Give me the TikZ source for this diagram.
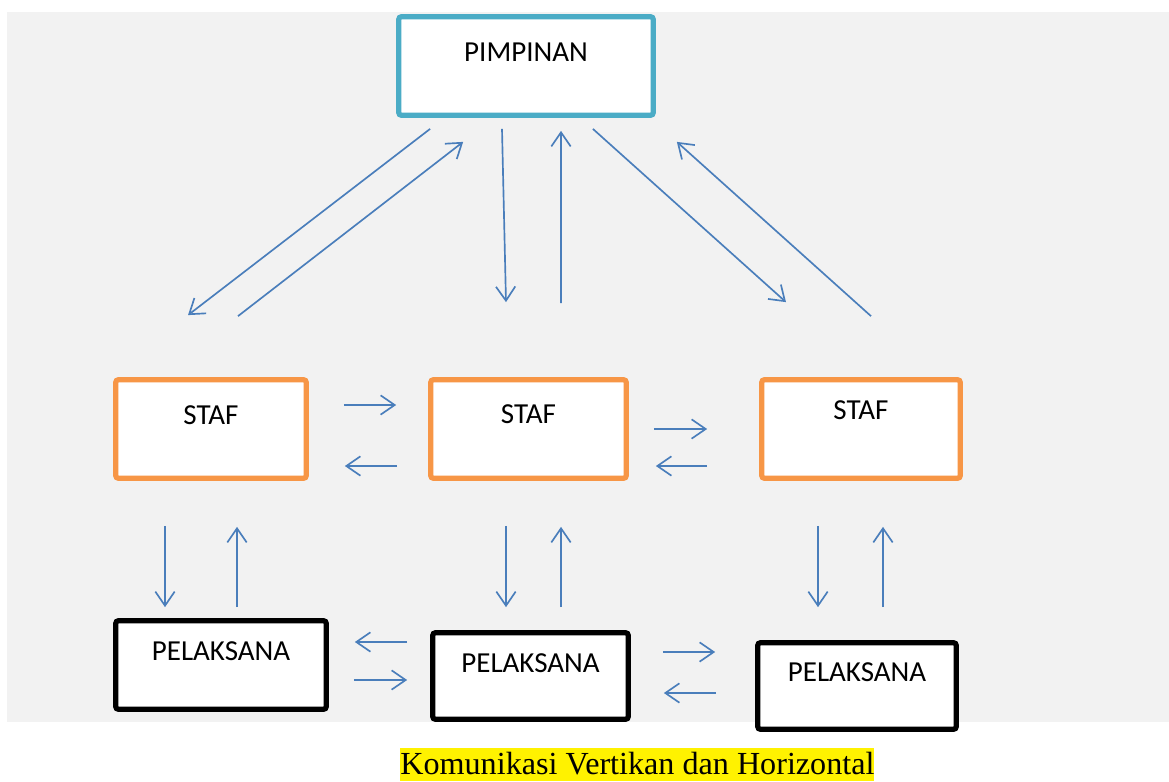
\documentclass[tikz,border=0pt]{standalone}
\usepackage{fontspec}
\setmainfont{Carlito}
\newfontfamily\capfont{Liberation Serif}
\usetikzlibrary{arrows.meta}
\definecolor{bggray}{HTML}{F2F2F2}
\definecolor{pimteal}{HTML}{4BACC6}
\definecolor{staforange}{HTML}{F79646}
\definecolor{arrblue}{HTML}{4A7EBB}
\begin{document}
\begin{tikzpicture}[x=0.02cm,y=-0.02cm,
  box/.style={draw,line width=3pt,fill=white,rounded corners=1.5pt,inner sep=0pt},
  pimbox/.style={box,draw=pimteal,minimum width=5.09cm,minimum height=1.97cm},
  stafbox/.style={box,draw=staforange,minimum height=1.97cm},
  pelbox/.style={box,draw=black,minimum height=1.73cm},
  lbl/.style={font=\fontsize{16.5}{20}\selectfont,inner sep=0pt},
  arr/.style={draw=arrblue,line width=0.95pt,-{Straight Barb[length=8pt,width=11pt]}}]
\useasboundingbox (0,0) rectangle (1169,781);
\fill[bggray] (7,12) rectangle (1169,722);
%
\node[pimbox] (pim) at (526,66) {};
\node[lbl] (pimtxt) at ([shift={(0,38.5)}]pim.north) {PIMPINAN};
%
\node[stafbox,minimum width=3.81cm] (staf1) at (211,429) {};
\node[stafbox,minimum width=3.91cm] (staf2) at (528.5,429) {};
\node[stafbox,minimum width=3.97cm] (staf3) at (861,429) {};
\node[lbl] (staf1txt) at ([shift={(0,38)}]staf1.north) {STAF};
\node[lbl] (staf2txt) at ([shift={(0,37)}]staf2.north) {STAF};
\node[lbl] (staf3txt) at ([shift={(0,33)}]staf3.north) {STAF};
%
\node[pelbox,minimum width=4.21cm,minimum height=1.77cm] (pel1) at (221,665) {};
\node[pelbox,minimum width=3.91cm] (pel2) at (530.5,676) {};
\node[pelbox,minimum width=3.97cm] (pel3) at (857,686) {};
\node[lbl] (pel1txt) at ([shift={(0,33)}]pel1.north) {PELAKSANA};
\node[lbl] (pel2txt) at ([shift={(0,33)}]pel2.north) {PELAKSANA};
\node[lbl] (pel3txt) at ([shift={(0,32.5)}]pel3.north) {PELAKSANA};
%
\node[fill=yellow,inner sep=0pt,text height=14.7pt,text depth=4pt,anchor=base west,
  font=\capfont\fontsize{18.3}{22}\selectfont] (cap) at (400,774) {Komunikasi Vertikan dan Horizontal};
%
% pimpinan <-> staf
\draw[arr] ([shift={(34,11)}]pim.south west) -- ([shift={(-23,-62)}]staf1.north);
\draw[arr] ([shift={(27,-61)}]staf1.north) -- ([shift={(67,24)}]pim.south west);
\draw[arr] ([shift={(-24,11)}]pim.south) -- ([shift={(-22.5,-75)}]staf2.north);
\draw[arr] ([shift={(32.5,-74)}]staf2.north) -- ([shift={(35,13)}]pim.south);
\draw[arr] ([shift={(-63,11)}]pim.south east) -- ([shift={(-75,-75)}]staf3.north);
\draw[arr] ([shift={(10,-61)}]staf3.north) -- ([shift={(21,24)}]pim.south east);
%
% staf <-> staf
\draw[arr] ([shift={(35,-24)}]staf1.east) -- ([shift={(-32,-24)}]staf2.west);
\draw[arr] ([shift={(-31,37)}]staf2.west) -- ([shift={(36,37)}]staf1.east);
\draw[arr] ([shift={(25,0)}]staf2.east) -- ([shift={(-52,0)}]staf3.west);
\draw[arr] ([shift={(-52,37)}]staf3.west) -- ([shift={(27,37)}]staf2.east);
%
% staf <-> pelaksana
\draw[arr] ([shift={(-46,45)}]staf1.south) -- ([shift={(-56,-11)}]pel1.north);
\draw[arr] ([shift={(16,-11)}]pel1.north) -- ([shift={(26,46)}]staf1.south);
\draw[arr] ([shift={(-22.5,45)}]staf2.south) -- ([shift={(-24.5,-23)}]pel2.north);
\draw[arr] ([shift={(30.5,-23)}]pel2.north) -- ([shift={(32.5,46)}]staf2.south);
\draw[arr] ([shift={(-43,45)}]staf3.south) -- ([shift={(-39,-33)}]pel3.north);
\draw[arr] ([shift={(26,-33)}]pel3.north) -- ([shift={(22,46)}]staf3.south);
%
% pelaksana <-> pelaksana
\draw[arr] ([shift={(-23,-34)}]pel2.west) -- ([shift={(26,-23)}]pel1.east);
\draw[arr] ([shift={(25,15)}]pel1.east) -- ([shift={(-23,4)}]pel2.west);
\draw[arr] ([shift={(32,-24)}]pel2.east) -- ([shift={(-40,-34)}]pel3.west);
\draw[arr] ([shift={(-39,7)}]pel3.west) -- ([shift={(33,17)}]pel2.east);
\end{tikzpicture}
\end{document}
